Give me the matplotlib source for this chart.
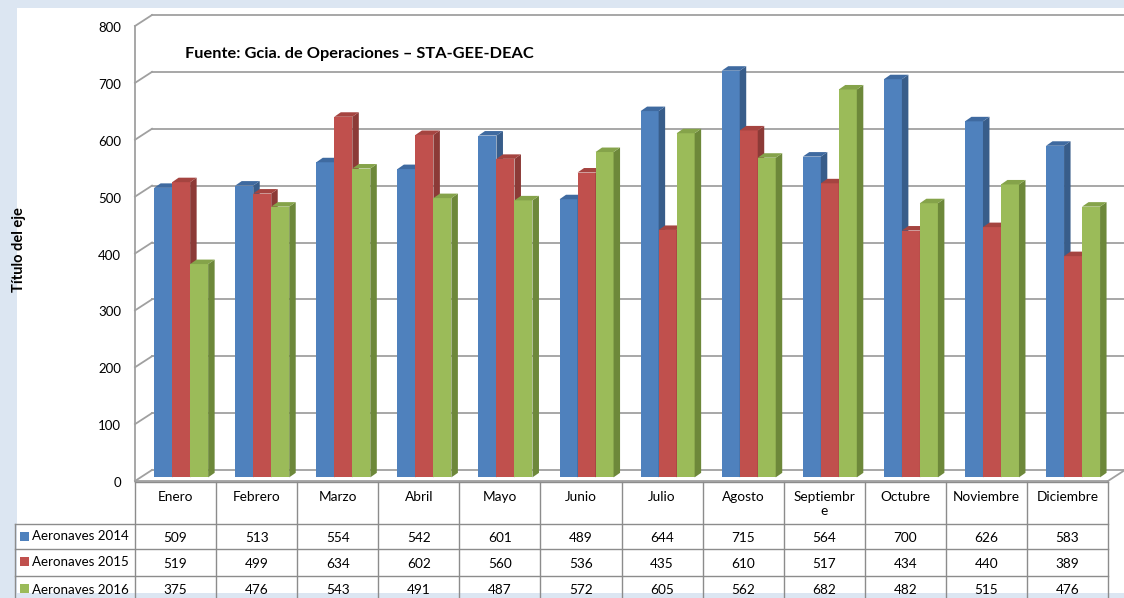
# -*- coding: utf-8 -*-
# Aeronaves por mes 2014-2016: columnas 3D agrupadas + tabla de datos debajo

import matplotlib.pyplot as plt
from matplotlib.patches import Polygon, Rectangle

meses = ['Enero', 'Febrero', 'Marzo', 'Abril', 'Mayo', 'Junio', 'Julio',
         'Agosto', 'Septiembr\ne', 'Octubre', 'Noviembre', 'Diciembre']
series = ['Aeronaves 2014', 'Aeronaves 2015', 'Aeronaves 2016']
aeronaves_2014 = [509, 513, 554, 542, 601, 489, 644, 715, 564, 700, 626, 583]
aeronaves_2015 = [519, 499, 634, 602, 560, 536, 435, 610, 517, 434, 440, 389]
aeronaves_2016 = [375, 476, 543, 491, 487, 572, 605, 562, 682, 482, 515, 476]
y_ticks = [0, 100, 200, 300, 400, 500, 600, 700, 800]
titulo = 'Fuente: Gcia. de Operaciones \u2013 STA-GEE-DEAC'
titulo_eje = 'Título del eje'

valores = [aeronaves_2014, aeronaves_2015, aeronaves_2016]
# colores: frente, lado, tapa
colores = [('#4f81bd', '#385d8a', '#3f6aa0'),
           ('#c0504d', '#8c3a37', '#a54440'),
           ('#9bbb59', '#6d883a', '#85a34a')]

plt.rcParams['font.family'] = ['Lato', 'DejaVu Sans']

W, H = 1124, 598
fig = plt.figure(figsize=(W / 100, H / 100), dpi=100, facecolor='#dce6f2')

# area blanca del grafico (detras de todo)
fig.patches.append(Rectangle((17 / W, (H - 593) / H), (W - 17) / W, (593 - 8) / H,
                             transform=fig.transFigure, facecolor='white',
                             edgecolor='none', zorder=-10))

# geometria (pixeles)
x_izq, x_der = 135, 1108
y_cero, y_max = 481, 26
col_w = (x_der - x_izq) / 12.0
px_y = (y_cero - y_max) / 800.0

ax = fig.add_axes([x_izq / W, (H - y_cero) / H, (x_der - x_izq) / W, (y_cero - y_max) / H])
ax.set_xlim(0, 12)
ax.set_ylim(0, 800)
ax.axis('off')

# profundidad de la pared del fondo
DX = 17 / col_w
DY = 11 / px_y
grid_col = '#a0a0a0'

for v in y_ticks:
    ax.plot([0, DX], [v, v + DY], color=grid_col, lw=1.3, clip_on=False, zorder=1)
    ax.plot([DX, 12 + DX], [v + DY, v + DY], color=grid_col, lw=1.3, clip_on=False, zorder=1)
    ax.text(-14 / col_w, v - 2 / px_y, str(v), ha='right', va='center', fontsize=9.5,
            color='black', clip_on=False)
ax.plot([0, 0], [0, 800], color=grid_col, lw=1.3, clip_on=False, zorder=1)
ax.plot([0, 12], [0, 0], color=grid_col, lw=1.3, clip_on=False, zorder=1)
ax.plot([12, 12 + DX], [0, DY], color=grid_col, lw=1.3, clip_on=False, zorder=1)

# barras 3D
bw = 0.222
fx, fy = 0.069, 6.4
bdx, bdy = 6.5 / col_w, 4.5 / px_y
z = 2
for i in range(12):
    for j, serie in enumerate(valores):
        v = serie[i]
        x0 = i + 0.5 - 1.5 * bw + j * bw + fx
        y0 = fy
        y1 = v + fy
        frente, lado, tapa = colores[j]
        ax.add_patch(Rectangle((x0, y0), bw, v, facecolor=frente, edgecolor='none',
                               clip_on=False, zorder=z))
        ax.add_patch(Polygon([(x0 + bw, y0), (x0 + bw + bdx, y0 + bdy),
                              (x0 + bw + bdx, y1 + bdy), (x0 + bw, y1)],
                             closed=True, facecolor=lado, edgecolor='none',
                             clip_on=False, zorder=z))
        ax.add_patch(Polygon([(x0, y1), (x0 + bdx, y1 + bdy),
                              (x0 + bw + bdx, y1 + bdy), (x0 + bw, y1)],
                             closed=True, facecolor=tapa, edgecolor='none',
                             clip_on=False, zorder=z))
        z += 1

# textos
fig.text(185 / W, 1 - 54 / H, titulo, ha='left', va='center', fontsize=11.8,
         fontweight='bold')
fig.text(19 / W, 1 - 250 / H, titulo_eje, ha='center', va='center', rotation=90,
         fontsize=10.5, fontweight='bold')

# tabla de datos (coordenadas en pixeles)
tab = fig.add_axes([0, 0, 1, 1])
tab.set_xlim(0, W)
tab.set_ylim(H, 0)
tab.axis('off')
tab.patch.set_alpha(0)

lin_col = '#8c8c8c'
y_top, y_hdr = 482, 524
filas_y = [524, 549, 576, 603]
x_lbl = 15

tab.plot([x_izq, x_der], [y_top, y_top], color=lin_col, lw=1)
for k in range(13):
    xc = x_izq + k * col_w
    tab.plot([xc, xc], [y_top, H], color=lin_col, lw=1)
tab.plot([x_lbl, x_lbl], [y_hdr, H], color=lin_col, lw=1)
for yy in filas_y[:3]:
    tab.plot([x_lbl, x_der], [yy, yy], color=lin_col, lw=1)

for k, mes in enumerate(meses):
    xc = x_izq + (k + 0.5) * col_w
    tab.text(xc, 491, mes, ha='center', va='top', fontsize=9.8, linespacing=1.2)

for r, (nombre, serie) in enumerate(zip(series, valores)):
    ya = filas_y[r]
    yc = (filas_y[r] + filas_y[r + 1]) / 2.0
    tab.add_patch(Rectangle((20, ya + 8), 9, 9, facecolor=colores[r][0], edgecolor='none'))
    tab.text(32, yc, nombre, ha='left', va='center', fontsize=9.6)
    for k, v in enumerate(serie):
        xc = x_izq + (k + 0.5) * col_w
        tab.text(xc, yc + 1, str(v), ha='center', va='center', fontsize=9.8)

fig.savefig('out.png', dpi=100, facecolor=fig.get_facecolor())
